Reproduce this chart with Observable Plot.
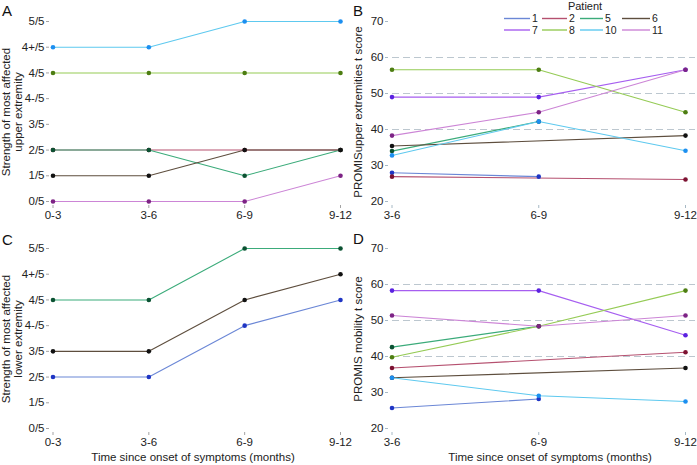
<!DOCTYPE html>
<html>
<head>
<meta charset="utf-8">
<script src="https://cdn.jsdelivr.net/npm/d3@7"></script>
<script src="https://cdn.jsdelivr.net/npm/@observablehq/plot@0.6"></script>
<style>
  html, body { margin: 0; padding: 0; background: #fff; }
  #root { position: relative; width: 697px; height: 465px; overflow: hidden; font-family: "Liberation Sans", Arial, sans-serif; }
  .panel { position: absolute; }
  .panel svg { background: transparent !important; overflow: visible; }
  .letter { position: absolute; font-size: 15px; color: #111; line-height: 1; }
</style>
</head>
<body>
<div id="root"></div>
<script>
// ---------- data ----------
const periodsAC = ["0-3", "3-6", "6-9", "9-12"];
const periodsBD = ["3-6", "6-9", "9-12"];
const strengthLevels = ["0/5", "1/5", "2/5", "3/5", "4-/5", "4/5", "4+/5", "5/5"];
const promisTicks = [20, 30, 40, 50, 60, 70];
const promisRefLines = [40, 50, 60];

const patientIds = ["1", "2", "5", "6", "7", "8", "10", "11"];
const lineColors = ["#6b87d6", "#b5506f", "#3bab7a", "#5e4e3e", "#a65ef0", "#95cb55", "#5ec9ef", "#cc85d6"];
const dotColors  = ["#1f35c4", "#7c1232", "#0b5232", "#111111", "#5a22e0", "#4d7d12", "#1c8ff0", "#7d2385"];

// Panel A: strength of most affected upper extremity
const upperStrengthPatients = ["2", "5", "6", "8", "10", "11"];
const upperStrength = [
  ["2/5", "2/5", "2/5", "2/5"],
  ["2/5", "2/5", "1/5", "2/5"],
  ["1/5", "1/5", "2/5", "2/5"],
  ["4/5", "4/5", "4/5", "4/5"],
  ["4+/5", "4+/5", "5/5", "5/5"],
  ["0/5", "0/5", "0/5", "1/5"]
];

// Panel C: strength of most affected lower extremity
const lowerStrengthPatients = ["1", "5", "6"];
const lowerStrength = [
  ["2/5", "2/5", "4-/5", "4/5"],
  ["4/5", "4/5", "5/5", "5/5"],
  ["3/5", "3/5", "4/5", "4+/5"]
];

// Panel B: PROMIS upper extremities t score (3-6, 6-9, 9-12)
const promisUpper = [
  [28.0, 26.9, null],
  [26.9, null, 26.1],
  [34.0, 42.2, null],
  [35.4, null, 38.3],
  [49.0, 49.0, 56.6],
  [56.6, 56.6, 44.8],
  [32.8, 42.2, 34.1],
  [38.3, 44.8, 56.6]
];

// Panel D: PROMIS mobility t score
const promisMobility = [
  [25.7, 28.2, null],
  [36.8, null, 41.2],
  [42.6, 48.4, null],
  [34.1, null, 36.8],
  [58.3, 58.3, 45.9],
  [39.8, 48.4, 58.3],
  [34.1, 29.1, 27.5],
  [51.4, 48.4, 51.4]
];

// ---------- helpers ----------
const textColor = "#222";
const axisGray = "#a3a3a3";
const axisBlue = "#a6b9c5";

function rows(ids, table, mapY) {
  const out = [];
  table.forEach((vals, i) => {
    const k = patientIds.indexOf(ids[i]);
    vals.forEach((v, j) => {
      if (v != null) out.push({patient: ids[i], x: j, y: mapY(v), line: lineColors[k], dot: dotColors[k]});
    });
  });
  return out;
}

const baseStyle = {fontSize: "11.5px", fontFamily: "'Liberation Sans', Arial, sans-serif", background: "transparent", overflow: "visible"};

function strengthPanel(data, title, height, marginBottom, xTitle) {
  const marks = [
    Plot.axisX({ticks: [0, 1, 2, 3], tickFormat: i => periodsAC[i], tickSize: 3, tickPadding: 2, line: true, stroke: axisGray, fill: textColor, label: null}),
    Plot.axisY({ticks: d3.range(strengthLevels.length), tickFormat: i => strengthLevels[i], tickSize: 3, tickPadding: 2, line: true, stroke: axisGray, fill: textColor, label: null}),
    Plot.line(data, {x: "x", y: "y", z: "patient", stroke: "line", strokeWidth: 1.1}),
    Plot.dot(data, {x: "x", y: "y", fill: "dot", r: 2.3}),
    Plot.text([title], {text: d => d, frameAnchor: "left", rotate: -90, dx: -37.5, textAnchor: "middle", lineAnchor: "middle", lineHeight: 1.05, fill: textColor})
  ];
  if (xTitle) marks.push(Plot.text([xTitle], {text: d => d, frameAnchor: "bottom", dy: 25, dx: -2, textAnchor: "middle", lineAnchor: "middle", fill: textColor}));
  return Plot.plot({
    width: 350, height, marginLeft: 49, marginRight: 10, marginTop: 18, marginBottom,
    insetLeft: 3.5, insetTop: 3, insetBottom: 4,
    style: baseStyle,
    x: {domain: [0, 3]},
    y: {domain: [0, strengthLevels.length - 1]},
    color: {type: "identity"},
    marks
  });
}

function promisPanel(data, title, height, marginBottom, xTitle) {
  const marks = [
    Plot.ruleY(promisRefLines, {stroke: "#bcc7cf", strokeWidth: 1.2, strokeDasharray: "7,4", insetLeft: 4, insetRight: -10}),
    Plot.axisX({ticks: [0, 1, 2], tickFormat: i => periodsBD[i], tickSize: 3, tickPadding: 2, line: true, stroke: axisBlue, fill: textColor, label: null}),
    Plot.axisY({ticks: promisTicks, tickSize: 3, tickPadding: 2, line: true, stroke: axisBlue, fill: textColor, label: null}),
    Plot.line(data, {x: "x", y: "y", z: "patient", stroke: "line", strokeWidth: 1.1}),
    Plot.dot(data, {x: "x", y: "y", fill: "dot", r: 2.3}),
    Plot.text([title], {text: d => d, frameAnchor: "left", rotate: -90, dx: -30, textAnchor: "middle", lineAnchor: "middle", fill: textColor})
  ];
  if (xTitle) marks.push(Plot.text([xTitle], {text: d => d, frameAnchor: "bottom", dy: 25, dx: 13, textAnchor: "middle", lineAnchor: "middle", fill: textColor}));
  return Plot.plot({
    width: 349, height, marginLeft: 40, marginRight: 12, marginTop: 18, marginBottom,
    insetLeft: 3.5, insetTop: 3, insetBottom: 4,
    style: baseStyle,
    x: {domain: [0, 2]},
    y: {domain: [20, 70]},
    color: {type: "identity"},
    marks
  });
}

const sIdx = v => strengthLevels.indexOf(v);
const root = document.getElementById("root");

function place(node, left, top) {
  const d = document.createElement("div");
  d.className = "panel";
  d.style.left = left + "px";
  d.style.top = top + "px";
  d.appendChild(node);
  root.appendChild(d);
}

place(strengthPanel(rows(upperStrengthPatients, upperStrength, sIdx), "Strength of most affected\nupper extremity", 230, 25, null), 0, 0);
place(promisPanel(rows(patientIds, promisUpper, v => v), "PROMISupper extremities t score", 230, 25, null), 348, 0);
place(strengthPanel(rows(lowerStrengthPatients, lowerStrength, sIdx), "Strength of most affected\nlower extremity", 238, 33, "Time since onset of symptoms (months)"), 0, 227);
place(promisPanel(rows(patientIds, promisMobility, v => v), "PROMIS mobility t score", 238, 33, "Time since onset of symptoms (months)"), 348, 227);

// panel letters
[["A", 2, 3], ["B", 353, 3], ["C", 2, 232], ["D", 353, 231]].forEach(([t, x, y]) => {
  const s = document.createElement("div");
  s.className = "letter";
  s.style.left = x + "px";
  s.style.top = y + "px";
  s.textContent = t;
  root.appendChild(s);
});

// legend
const leg = d3.select(root).append("svg")
  .attr("width", 697).attr("height", 40)
  .style("position", "absolute").style("left", "0px").style("top", "0px")
  .style("font-family", "'Liberation Sans', Arial, sans-serif");
leg.append("text").attr("x", 585).attr("y", 10).attr("text-anchor", "middle")
  .attr("font-size", 11).attr("fill", textColor).text("Patient");
const colX = [504, 542, 580, 622];
const colW = [26, 25, 23, 28];
patientIds.forEach((p, i) => {
  const row = Math.floor(i / 4), col = i % 4;
  const ly = row === 0 ? 18.5 : 30;
  leg.append("line").attr("x1", colX[col]).attr("x2", colX[col] + colW[col])
    .attr("y1", ly).attr("y2", ly).attr("stroke", lineColors[i]).attr("stroke-width", 1.4);
  leg.append("text").attr("x", colX[col] + colW[col] + 2).attr("y", ly + 3.6)
    .attr("font-size", 10.5).attr("fill", textColor).text(p);
});
</script>
</body>
</html>
